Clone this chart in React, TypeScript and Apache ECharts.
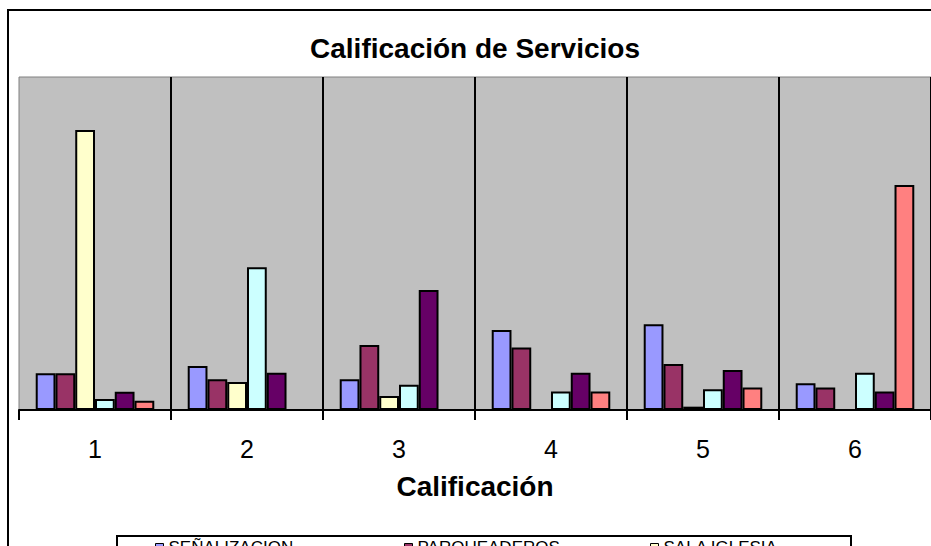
import React, { useEffect, useRef } from 'react';
import * as echarts from 'echarts';

const categories = ['1', '2', '3', '4', '5', '6'];
const seriesNames = ['SEÑALIZACION', 'PARQUEADEROS', 'SALA IGLESIA', 'BAÑOS', 'CAFETERIA', 'ATENCION'];
const senalizacion = [9.9, 11.9, 8.3, 21.6, 23.2, 7.2];
const parqueaderos = [9.9, 8.3, 17.6, 16.9, 12.4, 6.1];
const salaIglesia = [75.7, 7.6, 3.8, 0, 0.9, 0];
const banos = [3.0, 38.6, 6.8, 5.0, 5.6, 10.1];
const cafeteria = [4.9, 10.1, 32.4, 10.1, 10.8, 5.0];
const atencion = [2.5, 0, 0, 5.0, 6.1, 60.8];
const colors = ['#9999FF', '#993366', '#FFFFCC', '#CCFFFF', '#660066', '#FF8080'];

export default function App() {
  const ref = useRef<HTMLDivElement>(null);
  useEffect(() => {
    const chart = echarts.init(ref.current as HTMLDivElement, null, { renderer: 'svg' });
    const font = "'Liberation Sans', Arial, sans-serif";
    const values = [senalizacion, parqueaderos, salaIglesia, banos, cafeteria, atencion];
    const legendLefts = [155, 404, 650];
    const legends = seriesNames.map((name, i) => ({
      left: legendLefts[i % 3],
      top: 539 + Math.floor(i / 3) * 24,
      orient: 'horizontal',
      icon: 'rect',
      itemWidth: 8,
      itemHeight: 8,
      padding: 0,
      itemStyle: { borderColor: '#000', borderWidth: 1 },
      textStyle: { fontSize: 17, color: '#000', fontFamily: font },
      data: [name],
    }));
    chart.setOption({
      animation: false,
      backgroundColor: '#ffffff',
      textStyle: { fontFamily: font },
      title: {
        text: 'Calificación de Servicios',
        left: 470,
        textAlign: 'center',
        top: 29,
        textStyle: { fontSize: 28, fontWeight: 'bold', color: '#000', fontFamily: font },
      },
      graphic: [
        {
          type: 'rect',
          shape: { x: 8, y: 10, width: 950, height: 600 },
          style: { fill: 'none', stroke: '#000', lineWidth: 2 },
          silent: true,
        },
        {
          type: 'rect',
          shape: { x: 117, y: 536, width: 734, height: 60 },
          style: { fill: 'none', stroke: '#000', lineWidth: 2 },
          silent: true,
        },
      ],
      legend: legends,
      grid: {
        left: 19,
        top: 77,
        width: 917,
        height: 333,
        show: true,
        backgroundColor: '#C0C0C0',
        borderColor: '#808080',
        borderWidth: 1,
      },
      xAxis: {
        type: 'category',
        data: categories,
        name: 'Calificación',
        nameLocation: 'middle',
        nameGap: 62,
        nameTextStyle: { fontSize: 28, fontWeight: 'bold', color: '#000', fontFamily: font },
        axisLine: { lineStyle: { color: '#000', width: 2 } },
        axisTick: { show: true, length: 10, lineStyle: { color: '#000', width: 2 } },
        axisLabel: { fontSize: 25, color: '#000', margin: 26, fontFamily: font },
        splitLine: { show: true, interval: (i: number) => i !== 0, lineStyle: { color: '#000', width: 2 } },
      },
      yAxis: { type: 'value', min: 0, max: 90, show: false },
      series: seriesNames.map((name, i) => ({
        type: 'bar',
        name,
        data: values[i],
        barGap: '0%',
        barCategoryGap: '22%',
        itemStyle: { color: colors[i], borderColor: '#000', borderWidth: 2 },
      })),
    });
    return () => chart.dispose();
  }, []);
  return <div ref={ref} style={{ position: 'absolute', left: 0, top: 0, width: 931, height: 546 }} />;
}
